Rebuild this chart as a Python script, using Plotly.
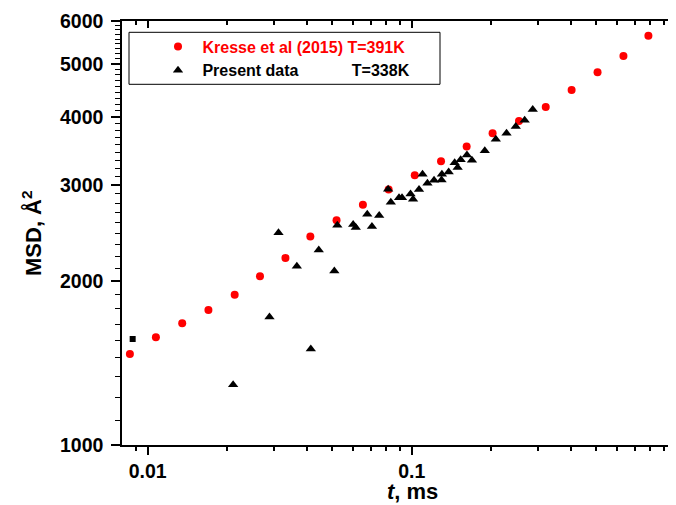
import math
import plotly.graph_objects as go

# ---- data ----
kresse_t = [0.00857, 0.01075, 0.01352, 0.01699, 0.02136, 0.02663, 0.03325, 0.0413,
            0.0519, 0.0653, 0.0817, 0.1026, 0.129, 0.1613, 0.2022, 0.2545, 0.3213,
            0.4026, 0.5047, 0.6325, 0.7862]
kresse_msd = [1469, 1576, 1672, 1769, 1887, 2041, 2205, 2414, 2586, 2759, 2944, 3127,
              3317, 3530, 3734, 3932, 4173, 4483, 4831, 5175, 5640]

present_t = [0.02107, 0.02893, 0.03129, 0.03672, 0.04147, 0.04445, 0.05091, 0.05225,
             0.05999, 0.06137, 0.06783, 0.07066, 0.07526, 0.08136, 0.08329, 0.08947,
             0.09183, 0.09888, 0.1011, 0.1065, 0.1098, 0.1146, 0.1214, 0.1296, 0.1300,
             0.1379, 0.1453, 0.1491, 0.1531, 0.1617, 0.1689, 0.1889, 0.208, 0.2283,
             0.2475, 0.2674, 0.2869]
present_msd = [1290, 1717, 2451, 2129, 1500, 2279, 2087, 2532, 2539, 2507, 2652, 2518,
               2637, 2948, 2790, 2843, 2843, 2889, 2825, 2944, 3141, 3023, 3062, 3066,
               3141, 3171, 3297, 3231, 3338, 3406, 3331, 3467, 3640, 3734, 3842, 3945,
               4127]

square_t = [0.00878]
square_msd = [1565]

x_major = [0.01, 0.1, 1]
x_major_text = ["0.01", "0.1", "1"]
x_minor = [0.009] + [k / 100 for k in range(2, 10)] + [k / 10 for k in range(2, 10)]
y_major = [1000, 2000, 3000, 4000, 5000, 6000]
y_major_text = ["1000", "2000", "3000", "4000", "5000", "6000"]
y_minor = [m + k * 1000 / 9 for m in y_major[:-1] for k in range(1, 9)]

x_range = [math.log10(0.008), math.log10(1.0)]
y_range = [math.log10(1000), math.log10(6000)]

FONT = "Liberation Sans"
NB = "\u00a0"

# plot area in page pixels: left 122, right 676, top 21, bottom 445
PL, PW, PB, PH = 122.0, 554.0, 445.0, 424.0

def px(xp):
    return (xp - PL) / PW

def py(yp):
    return (PB - yp) / PH

fig = go.Figure()
fig.add_trace(go.Scatter(
    x=kresse_t, y=kresse_msd, mode="markers",
    name='<span style="color:#ff0000">' + NB + "Kresse et al (2015) T=391K</span>",
    marker=dict(symbol="circle", size=8, color="#ff0000"),
))
fig.add_trace(go.Scatter(
    x=present_t, y=present_msd, mode="markers",
    name=NB + "Present data" + NB * 12 + "T=338K",
    marker=dict(symbol="triangle-up", size=9, color="#000000"),
))
fig.add_trace(go.Scatter(
    x=square_t, y=square_msd, mode="markers", showlegend=False,
    marker=dict(symbol="square", size=6, color="#000000"),
))
# empty trace to register the mirrored (top/right) axes
fig.add_trace(go.Scatter(x=[], y=[], xaxis="x2", yaxis="y2", showlegend=False))

tick_font = dict(family=FONT, size=19.5, color="#000000", weight="bold")

fig.update_layout(
    width=668, height=497,
    margin=dict(l=114, r=0, t=13, b=60),
    paper_bgcolor="white", plot_bgcolor="white",
    showlegend=True,
    legend=dict(
        x=px(158), y=py(29.5), xanchor="left", yanchor="top",
        bgcolor="rgba(0,0,0,0)", borderwidth=0,
        font=dict(family=FONT, size=16, color="#000000", weight="bold"),
        tracegroupgap=0,
    ),
    xaxis=dict(
        type="log", range=x_range, showgrid=False, zeroline=False,
        showline=True, linecolor="#000000", linewidth=1.5,
        tickmode="array", tickvals=x_major, ticktext=x_major_text,
        ticks="outside", ticklen=8, tickwidth=1.5, tickcolor="#000000",
        tickfont=tick_font,
        minor=dict(tickmode="array", tickvals=x_minor, ticks="outside",
                   ticklen=4, tickwidth=1.5, tickcolor="#000000", showgrid=False),
    ),
    yaxis=dict(
        type="log", range=y_range, showgrid=False, zeroline=False,
        showline=True, linecolor="#000000", linewidth=1.5,
        tickmode="array", tickvals=y_major, ticktext=y_major_text,
        ticks="outside", ticklen=9, tickwidth=1.5, tickcolor="#000000",
        tickfont=tick_font, ticklabelstandoff=4,
        minor=dict(tickmode="array", tickvals=y_minor, ticks="outside",
                   ticklen=5, tickwidth=1.2, tickcolor="#000000", showgrid=False),
    ),
    xaxis2=dict(
        type="log", range=x_range, overlaying="x", side="top", anchor="y2",
        showgrid=False, zeroline=False, showline=True, linecolor="#000000",
        linewidth=1.5, tickmode="array", tickvals=x_major, showticklabels=False,
        ticks="inside", ticklen=7, tickwidth=1.5, tickcolor="#000000",
        minor=dict(tickmode="array", tickvals=x_minor, ticks="inside",
                   ticklen=4, tickwidth=1.5, tickcolor="#000000", showgrid=False),
    ),
    yaxis2=dict(
        type="log", range=y_range, overlaying="y", side="right", anchor="x2",
        showgrid=False, zeroline=False, showline=True, linecolor="#000000",
        linewidth=1.5, tickmode="array", tickvals=y_major, showticklabels=False,
        ticks="inside", ticklen=7, tickwidth=1.5, tickcolor="#000000",
        minor=dict(tickmode="array", tickvals=y_minor, ticks="inside",
                   ticklen=4, tickwidth=1.2, tickcolor="#000000", showgrid=False),
    ),
    shapes=[dict(
        type="rect", xref="paper", yref="paper",
        x0=px(129), x1=px(440), y0=py(84.3), y1=py(32.3),
        line=dict(color="#000000", width=1), fillcolor="rgba(0,0,0,0)",
    )],
    annotations=[
        dict(text="<b><i>t</i>, ms</b>", xref="paper", yref="paper",
             x=px(412), y=0, yshift=-46, xanchor="center", yanchor="middle",
             showarrow=False, font=dict(family=FONT, size=22, color="#000000")),
        dict(text="<b>MSD, Å<sup>2</sup></b>", xref="paper", yref="paper",
             x=0, xshift=-90, y=0.5, xanchor="center", yanchor="middle",
             textangle=-90, showarrow=False,
             font=dict(family=FONT, size=22, color="#000000")),
    ],
)

fig.write_html("out.html")
